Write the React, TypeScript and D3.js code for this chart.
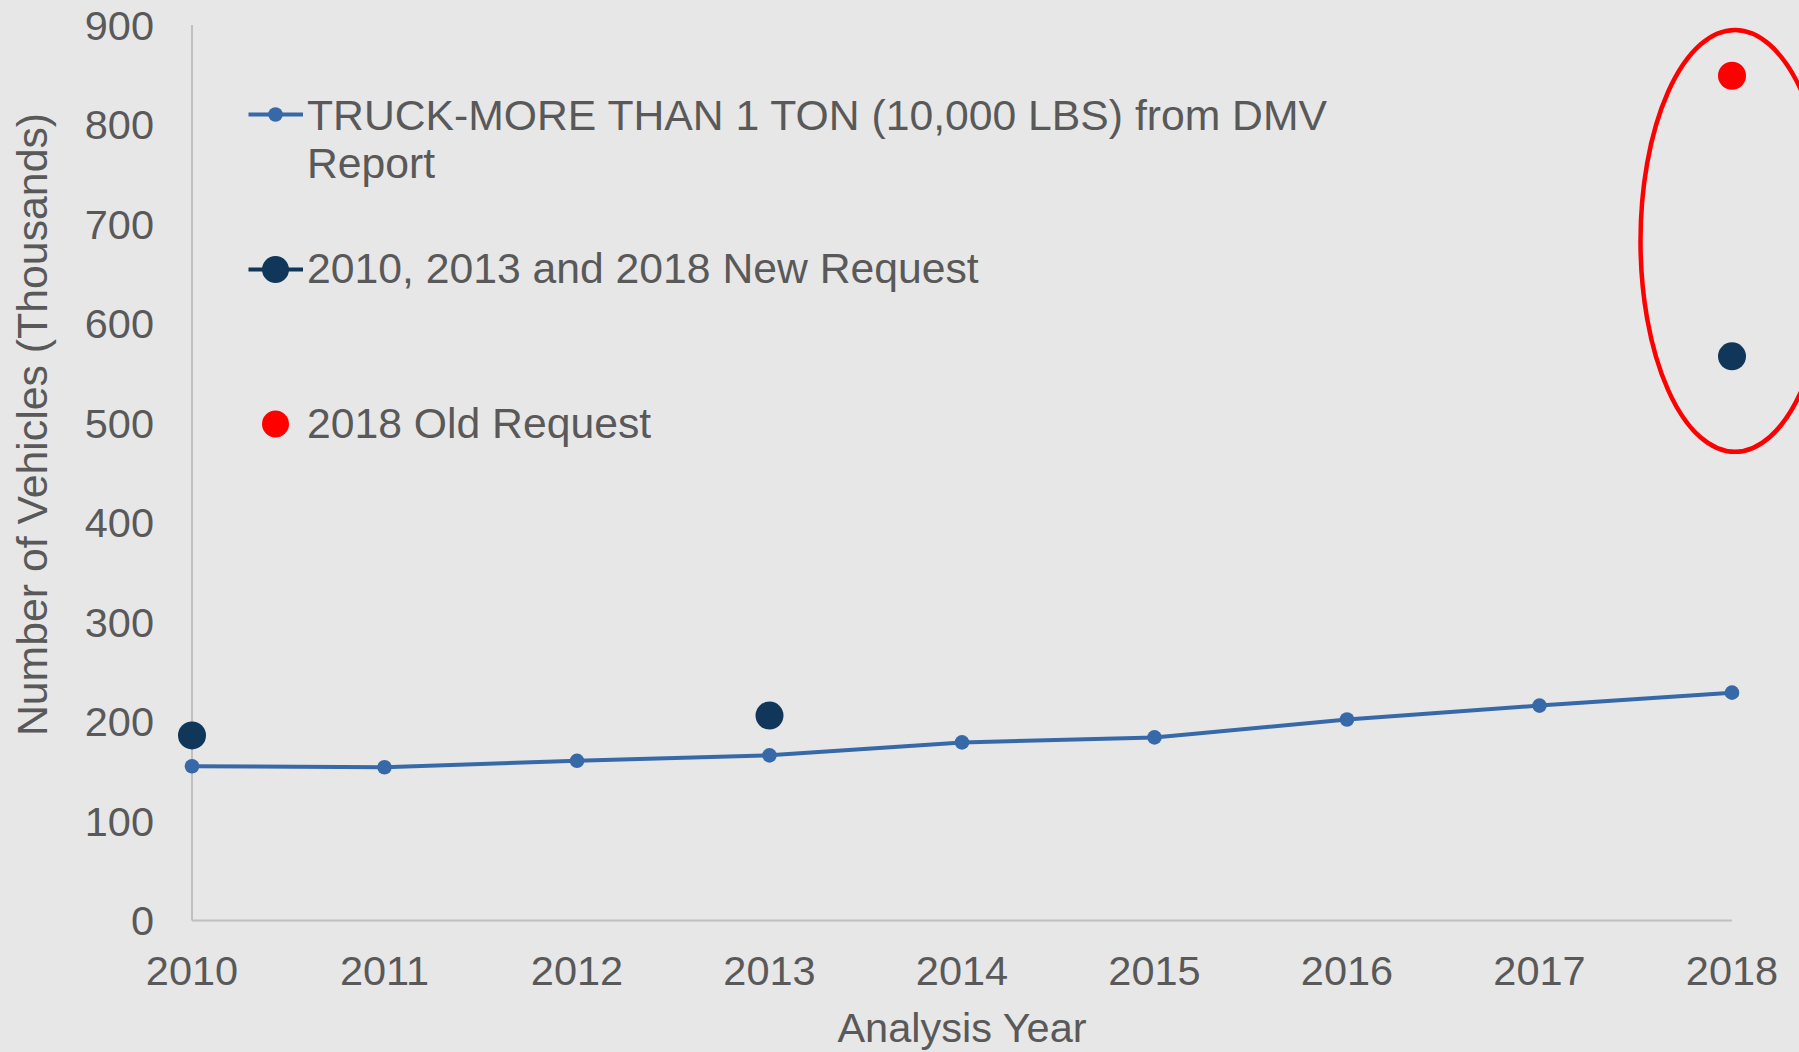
import React from "react";
import * as d3 from "d3";

const years = [2010, 2011, 2012, 2013, 2014, 2015, 2016, 2017, 2018];
const dmvValues = [155, 154, 160.5, 166, 179, 184, 202, 216, 229];
const newRequestYears = [2010, 2013, 2018];
const newRequestValues = [186, 206, 567];
const oldRequestYears = [2018];
const oldRequestValues = [849];
const yTicks = [0, 100, 200, 300, 400, 500, 600, 700, 800, 900];
const legendLabels = [
  ["TRUCK-MORE THAN 1 TON (10,000 LBS) from DMV", "Report"],
  ["2010, 2013 and 2018 New Request"],
  ["2018 Old Request"],
];
const xTitle = "Analysis Year";
const yTitle = "Number of Vehicles (Thousands)";

const W = 1799;
const H = 1052;
const FONT = "'Liberation Sans', Arial, sans-serif";
const TEXT = "#595959";
const BLUE = "#3769a8";
const NAVY = "#10375a";
const RED = "#ff0000";
const AXIS = "#bfbfbf";
const BG = "#e7e7e7";

export default function App() {
  const x = d3.scaleLinear().domain([2010, 2018]).range([192, 1732]);
  const y = d3.scaleLinear().domain([0, 900]).range([920.5, 25]);
  const line = d3
    .line<number>()
    .x((_, i) => x(years[i]))
    .y((d) => y(d));

  // annotation ellipse around the 2018 requests
  const ellCx = x(2018) + 3;
  const ellCy = y(683);
  const ellRy = y(683) - y(895);
  const ellRx = 94.5;

  const legendY = [114.5, 269.5, 424];
  const legendBase = [129.5, 283, 438];

  return (
    <svg
      width={W}
      height={H}
      style={{ position: "absolute", left: 0, top: 0, display: "block" }}
      fontFamily={FONT}
    >
      <rect x={0} y={0} width={W} height={H} fill={BG} />

      {/* axes */}
      <line x1={x(2010)} x2={x(2010)} y1={y(900)} y2={y(0)} stroke={AXIS} strokeWidth={2} />
      <line x1={x(2010)} x2={x(2018)} y1={y(0)} y2={y(0)} stroke={AXIS} strokeWidth={2} />

      {yTicks.map((t) => (
        <text
          key={t}
          x={154}
          y={y(t) + 14.5}
          textAnchor="end"
          fontSize={41.5}
          fill={TEXT}
        >
          {t}
        </text>
      ))}
      {years.map((yr) => (
        <text key={yr} x={x(yr)} y={985} textAnchor="middle" fontSize={41.5} fill={TEXT}>
          {yr}
        </text>
      ))}
      <text x={(x(2010) + x(2018)) / 2} y={1041.5} textAnchor="middle" fontSize={41.5} fill={TEXT}>
        {xTitle}
      </text>
      <text
        transform={`translate(46.5, 424.5) rotate(-90)`}
        textAnchor="middle"
        fontSize={42.8}
        fill={TEXT}
      >
        {yTitle}
      </text>

      {/* DMV line */}
      <path d={line(dmvValues) || ""} fill="none" stroke={BLUE} strokeWidth={4} strokeLinejoin="round" />
      {dmvValues.map((v, i) => (
        <circle key={i} cx={x(years[i])} cy={y(v)} r={7.3} fill={BLUE} />
      ))}

      {/* new request points */}
      {newRequestValues.map((v, i) => (
        <circle key={i} cx={x(newRequestYears[i])} cy={y(v)} r={14} fill={NAVY} />
      ))}
      {/* old request */}
      {oldRequestValues.map((v, i) => (
        <circle key={i} cx={x(oldRequestYears[i])} cy={y(v)} r={14} fill={RED} />
      ))}

      <ellipse cx={ellCx} cy={ellCy} rx={ellRx} ry={ellRy} fill="none" stroke={RED} strokeWidth={4.5} />

      {/* legend */}
      <line x1={248.5} x2={303} y1={legendY[0]} y2={legendY[0]} stroke={BLUE} strokeWidth={4} />
      <circle cx={275.5} cy={legendY[0]} r={7.3} fill={BLUE} />
      <line x1={248.5} x2={303} y1={legendY[1]} y2={legendY[1]} stroke={NAVY} strokeWidth={4} />
      <circle cx={275.5} cy={legendY[1]} r={13.5} fill={NAVY} />
      <circle cx={275.5} cy={legendY[2]} r={13.5} fill={RED} />

      {legendLabels.map((lines, i) =>
        lines.map((t, j) => (
          <text key={`${i}-${j}`} x={307} y={legendBase[i] + j * 48} fontSize={42.7} fill={TEXT}>
            {t}
          </text>
        ))
      )}
    </svg>
  );
}
